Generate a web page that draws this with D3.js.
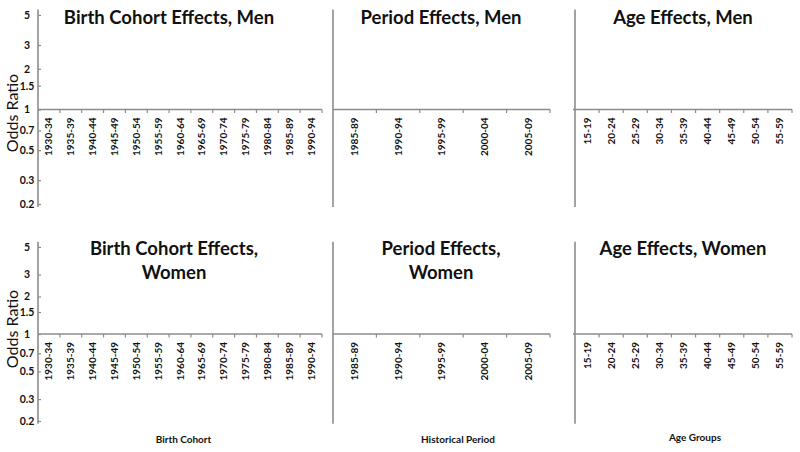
<!DOCTYPE html>
<html><head><meta charset="utf-8">
<script src="https://cdn.jsdelivr.net/npm/d3@7/dist/d3.min.js"></script>
<style>
body{margin:0;background:#fff}
svg text{font-family:Lato,"Open Sans",sans-serif;fill:#111}
</style>
</head><body>
<svg id="c" width="800" height="452"></svg>
<script>
// ---- data ----
const cohortCategories = ["1930-34","1935-39","1940-44","1945-49","1950-54","1955-59","1960-64","1965-69","1970-74","1975-79","1980-84","1985-89","1990-94"];
const periodCategories = ["1985-89","1990-94","1995-99","2000-04","2005-09"];
const ageCategories = ["15-19","20-24","25-29","30-34","35-39","40-44","45-49","50-54","55-59"];
const oddsTicks = [0.2,0.3,0.5,0.7,1,1.5,2,3,5];
const oddsDomain = [0.19,5.5];
const panelTitlesMen = [["Birth Cohort Effects, Men"],["Period Effects, Men"],["Age Effects, Men"]];
const panelTitlesWomen = [["Birth Cohort Effects,","Women"],["Period Effects,","Women"],["Age Effects, Women"]];
const axisTitles = ["Birth Cohort","Historical Period","Age Groups"];

// ---- layout ----
const svg = d3.select("#c");
const AX = "#8c8c8c";
const cols = [
  {cats: cohortCategories, x0: 38, x1: 322, titleX: 169, yLabels: true},
  {cats: periodCategories, x0: 333, x1: 550, titleX: 441, yLabels: false},
  {cats: ageCategories, x0: 575, x1: 792, titleX: 683, yLabels: false}
];
const rows = [
  {range:[207,9.4], titles: panelTitlesMen, titleY:[23.5], oddsY:113},
  {range:[423.8,241.8], titles: panelTitlesWomen, titleY:[255,279], oddsY:329}
];

rows.forEach((row, ri) => {
  const y = d3.scaleLog().domain(oddsDomain).range(row.range);
  const y1 = y(1);
  cols.forEach((col, ci) => {
    const g = svg.append("g");
    const x = d3.scaleBand().domain(col.cats).range([col.x0, col.x1]).paddingInner(0).paddingOuter(0);
    // y axis
    if (col.yLabels) {
      const ya = g.append("g").attr("transform",`translate(${col.x0},0)`)
        .call(d3.axisLeft(y).tickValues(oddsTicks).tickSize(-3).tickPadding(11).tickFormat(d3.format("")));
      ya.select(".domain").remove();
      ya.selectAll(".tick line").attr("stroke",AX).attr("stroke-width",1.2);
      ya.selectAll(".tick text").attr("text-anchor","middle").attr("font-size",10.5).attr("font-weight","bold")
        .style("font-family","Lato,sans-serif").attr("fill","#222");
    }
    g.append("line").attr("x1",col.x0).attr("x2",col.x0)
      .attr("y1",row.range[1]).attr("y2",row.range[0]).attr("stroke",AX).attr("stroke-width",1.6);
    // x axis at OR = 1
    g.append("line").attr("x1",col.x0 - (ci===2?2:0)).attr("x2",col.x1).attr("y1",y1).attr("y2",y1)
      .attr("stroke",AX).attr("stroke-width",1.6);
    // boundary ticks
    g.selectAll("line.bt").data(col.cats).enter().append("line").attr("class","bt")
      .attr("x1",d=>x(d)+x.bandwidth()).attr("x2",d=>x(d)+x.bandwidth())
      .attr("y1",y1).attr("y2",y1+3.5).attr("stroke",AX).attr("stroke-width",1.2);
    // category labels
    g.selectAll("text.cl").data(col.cats).enter().append("text").attr("class","cl")
      .attr("transform",d=>`translate(${x(d)+x.bandwidth()/2},${y1+8}) rotate(-90)`)
      .attr("text-anchor","end").attr("dy","0.35em")
      .attr("font-size",10).attr("font-weight","bold").text(d=>d);
    // titles
    row.titles[ci].forEach((t, li) => {
      g.append("text").attr("x",col.titleX + (ri===1 && ci===0 ? 5 : 0)).attr("y",row.titleY[li])
        .attr("text-anchor","middle").attr("font-size",18.5).attr("font-weight","bold").text(t);
    });
    if (ri===1) {
      g.append("text").attr("x",[183.5,458,695][ci]).attr("y",[443,443,441][ci])
        .attr("text-anchor","middle").attr("font-size",10).attr("font-weight","bold").text(axisTitles[ci]);
    }
  });
  svg.append("text").attr("transform",`translate(18,${row.oddsY}) rotate(-90)`)
    .attr("text-anchor","middle").attr("font-size",16).text("Odds Ratio");
});
</script>
</body></html>
